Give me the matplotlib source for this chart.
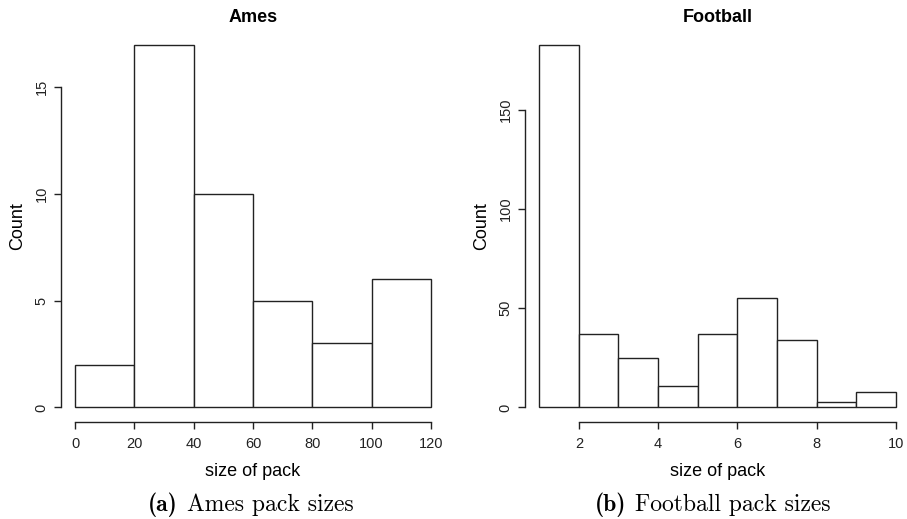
import matplotlib
matplotlib.use("Agg")
import matplotlib.pyplot as plt
import numpy as np

# bin edges and counts
ames_edges = [0, 20, 40, 60, 80, 100, 120]
ames_counts = [2, 17, 10, 5, 3, 6]
ames_yticks = [0, 5, 10, 15]
ames_xticks = [0, 20, 40, 60, 80, 100, 120]

football_edges = [1, 2, 3, 4, 5, 6, 7, 8, 9, 10]
football_counts = [183, 37, 25, 11, 37, 55, 34, 3, 8]
football_yticks = [0, 50, 100, 150]
football_xticks = [2, 4, 6, 8, 10]

plt.rcParams.update({
    "font.family": ["Liberation Sans", "DejaVu Sans"],
})

W, H = 907, 519
fig = plt.figure(figsize=(W / 100, H / 100), dpi=100)


def r_hist(ax, edges, counts, xticks, yticks, title):
    edges = np.asarray(edges, dtype=float)
    ax.hist(edges[:-1], bins=edges, weights=counts, color="white",
            edgecolor="#222222", linewidth=1.0)
    span = edges[-1] - edges[0]
    ax.set_xlim(edges[0] - 0.04 * span, edges[-1] + 0.04 * span)
    top = max(counts)
    ax.set_ylim(-0.04 * top, top * 1.04)
    for s in ("top", "right"):
        ax.spines[s].set_visible(False)
    ax.spines["left"].set_bounds(yticks[0], yticks[-1])
    ax.spines["bottom"].set_bounds(xticks[0], xticks[-1])
    for s in ("left", "bottom"):
        ax.spines[s].set_linewidth(1.0)
        ax.spines[s].set_color("#222222")
    ax.set_xticks(xticks)
    ax.set_yticks(yticks)
    ax.tick_params(axis="both", direction="out", length=5, width=1.0,
                   color="#222222", labelsize=10.5, labelcolor="#222222")
    ax.tick_params(axis="x", pad=6)
    ax.tick_params(axis="y", pad=4, labelrotation=90)
    for lab in ax.get_yticklabels():
        lab.set_va("center")
    ax.set_title(title, fontsize=13, fontweight="bold", pad=6)
    ax.set_xlabel("size of pack", fontsize=13)
    ax.set_ylabel("Count", fontsize=13)
    ax.xaxis.set_label_coords(0.5, -0.105)
    ax.yaxis.set_label_coords(-0.09, 0.5)


# axes positions in pixels (left, right, bottom, top)
def add_axes(l, r, b, t):
    return fig.add_axes([l / W, (H - b) / H, (r - l) / W, (b - t) / H])


ax1 = add_axes(61, 445, 422, 30)
r_hist(ax1, ames_edges, ames_counts, ames_xticks, ames_yticks, "Ames")

ax2 = add_axes(525, 910, 422, 30)
r_hist(ax2, football_edges, football_counts, football_xticks, football_yticks, "Football")


# sub-figure captions: bold "(a)" + roman text, centred as one line
def caption(cx, tag, body, y=14, size=17, gap=9):
    t1 = fig.text(0, y / H, tag, family="cmb10", fontsize=size, va="center")
    t2 = fig.text(0, y / H, body, family="cmr10", fontsize=size, va="center")
    r = fig.canvas.get_renderer()
    w1 = t1.get_window_extent(r).width
    w2 = t2.get_window_extent(r).width
    x0 = cx - (w1 + gap + w2) / 2
    t1.set_x(x0 / W)
    t2.set_x((x0 + w1 + gap) / W)


caption(251, "(a)", "Ames pack sizes")
caption(713, "(b)", "Football pack sizes")

fig.savefig("out.png", dpi=100)
